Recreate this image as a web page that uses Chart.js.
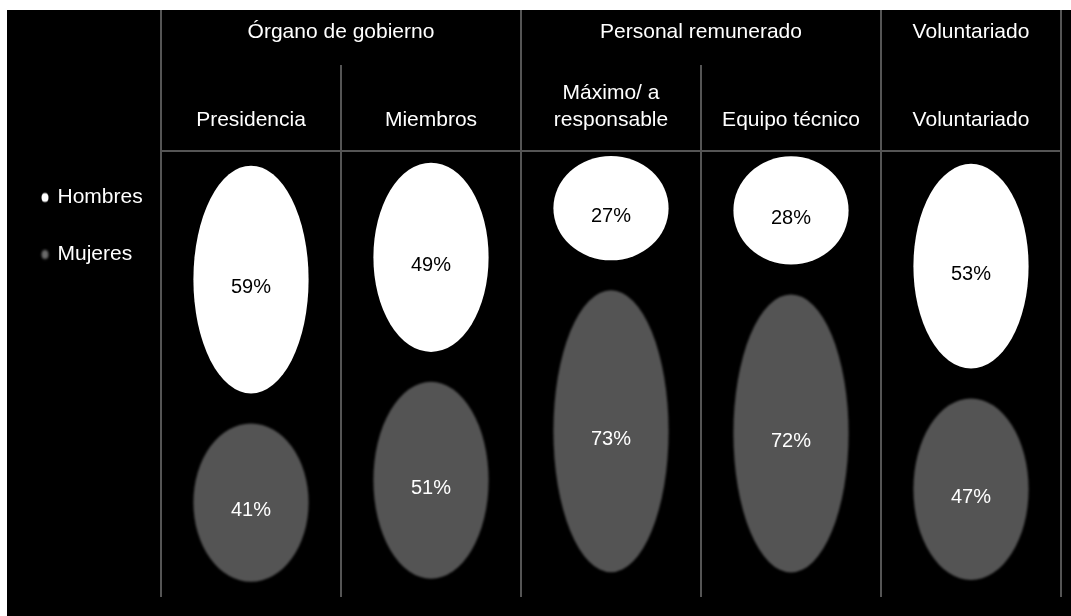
<!DOCTYPE html>
<html>
<head>
<meta charset="utf-8">
<script src="https://cdn.jsdelivr.net/npm/chart.js@4.4.1/dist/chart.umd.min.js"></script>
<style>
  html, body { margin: 0; padding: 0; background: #fff; }
  #wrap { position: absolute; left: 7px; top: 10px; width: 1064px; height: 606px; background: #000; }
</style>
</head>
<body>
<div id="wrap"><canvas id="sexChart"></canvas></div>
<script>
// Column groups, categories and shares (%)
const groups = ['Órgano de gobierno', 'Personal remunerado', 'Voluntariado'];
const groupSpans = [2, 2, 1];
const categories = ['Presidencia', 'Miembros', ['Máximo/ a', 'responsable'], 'Equipo técnico', 'Voluntariado'];
const hombres = [59, 49, 27, 28, 53];
const mujeres = [41, 51, 73, 72, 47];

const LINE_COLOR = '#555555';
const WHITE = '#ffffff';
const GREY = '#545454';
const FONT = "'Liberation Sans', Arial, Helvetica, sans-serif";
const OVAL_FILL = 0.866; // share of each stacked segment taken by its oval
const OVAL_LIFT = 3;     // ovals sit slightly above their segment centre

Chart.defaults.font.family = FONT;
Chart.defaults.color = WHITE;

// small oval marker used in the legend
function makeDot(color, blur) {
  const c = document.createElement('canvas');
  c.width = 12;
  c.height = 14;
  const g = c.getContext('2d');
  if (blur) g.filter = 'blur(' + blur + 'px)';
  g.fillStyle = color;
  g.beginPath();
  g.ellipse(6, 7, 3.5, 4.5, 0, 0, Math.PI * 2);
  g.fill();
  return c;
}

// draw each stacked bar segment as an oval, with its value inside
const ovalBars = {
  id: 'ovalBars',
  beforeDatasetDraw(chart, args) {
    const ctx = chart.ctx;
    const ds = chart.data.datasets[args.index];
    ctx.save();
    ctx.fillStyle = ds.backgroundColor;
    if (ds.blur) ctx.filter = 'blur(' + ds.blur + 'px)';
    args.meta.data.forEach(bar => {
      const p = bar.getProps(['x', 'y', 'base', 'width'], true);
      const cy = (p.y + p.base) / 2 - OVAL_LIFT;
      const ry = Math.abs(p.base - p.y) * OVAL_FILL / 2;
      ctx.beginPath();
      ctx.ellipse(p.x, cy, p.width / 2, ry, 0, 0, Math.PI * 2);
      ctx.fill();
    });
    ctx.restore();
    return false;
  },
  afterDatasetsDraw(chart) {
    const ctx = chart.ctx;
    ctx.save();
    ctx.font = '20px ' + FONT;
    ctx.textAlign = 'center';
    ctx.textBaseline = 'middle';
    chart.data.datasets.forEach((ds, i) => {
      ctx.fillStyle = ds.labelColor;
      chart.getDatasetMeta(i).data.forEach((bar, j) => {
        const p = bar.getProps(['x', 'y', 'base'], true);
        ctx.fillText(ds.data[j] + '%', p.x, (p.y + p.base) / 2 + 5);
      });
    });
    ctx.restore();
  }
};

// column separators in the header and the group titles above them
const headerGrid = {
  id: 'headerGrid',
  afterDraw(chart) {
    const x = chart.scales.x;
    const ctx = chart.ctx;
    const edge = k => x.getPixelForValue(k - 0.5);
    const groupEdges = [0];
    groupSpans.forEach(s => groupEdges.push(groupEdges[groupEdges.length - 1] + s));

    ctx.save();
    ctx.strokeStyle = LINE_COLOR;
    ctx.lineWidth = 2;
    for (let k = 0; k <= categories.length; k++) {
      const px = edge(k);
      const top = groupEdges.includes(k) ? 0 : 55;
      ctx.beginPath();
      ctx.moveTo(px, top);
      ctx.lineTo(px, x.bottom);
      ctx.stroke();
    }

    ctx.fillStyle = WHITE;
    ctx.font = '21px ' + FONT;
    ctx.textAlign = 'center';
    ctx.textBaseline = 'middle';
    groups.forEach((g, i) => {
      const mid = (edge(groupEdges[i]) + edge(groupEdges[i + 1])) / 2;
      ctx.fillText(g, mid, 22);
    });
    ctx.restore();
  }
};

new Chart(document.getElementById('sexChart'), {
  type: 'bar',
  data: {
    labels: categories,
    datasets: [
      {
        label: 'Hombres',
        data: hombres,
        backgroundColor: WHITE,
        labelColor: '#000000',
        pointStyle: makeDot(WHITE, 0)
      },
      {
        label: 'Mujeres',
        data: mujeres,
        backgroundColor: GREY,
        labelColor: WHITE,
        blur: 1,
        pointStyle: makeDot('#6a6a6a', 1)
      }
    ]
  },
  options: {
    responsive: true,
    maintainAspectRatio: false,
    animation: false,
    layout: { padding: { right: 10, bottom: 19 } },
    datasets: {
      bar: { categoryPercentage: 1, barPercentage: 0.64 }
    },
    scales: {
      x: {
        position: 'top',
        stacked: true,
        grid: { color: LINE_COLOR, lineWidth: 2, drawTicks: false },
        border: { color: LINE_COLOR, width: 2 },
        ticks: {
          color: WHITE,
          font: { size: 21, lineHeight: 1.25 },
          padding: 18,
          maxRotation: 0,
          autoSkip: false
        },
        afterFit(scale) { scale.height = 141; }
      },
      y: {
        stacked: true,
        min: 0,
        max: 100,
        reverse: true,
        ticks: { display: false },
        grid: { display: false },
        border: { display: false },
        afterFit(scale) {
          const lg = scale.chart.legend;
          scale.width = Math.max(0, 154 - (lg ? lg.width : 0));
        }
      }
    },
    plugins: {
      legend: {
        position: 'left',
        align: 'start',
        fullSize: false,
        labels: {
          usePointStyle: true,
          pointStyleWidth: 4,
          padding: 36,
          color: WHITE,
          font: { size: 21 }
        }
      },
      tooltip: { enabled: false }
    }
  },
  plugins: [ovalBars, headerGrid]
});
</script>
</body>
</html>
